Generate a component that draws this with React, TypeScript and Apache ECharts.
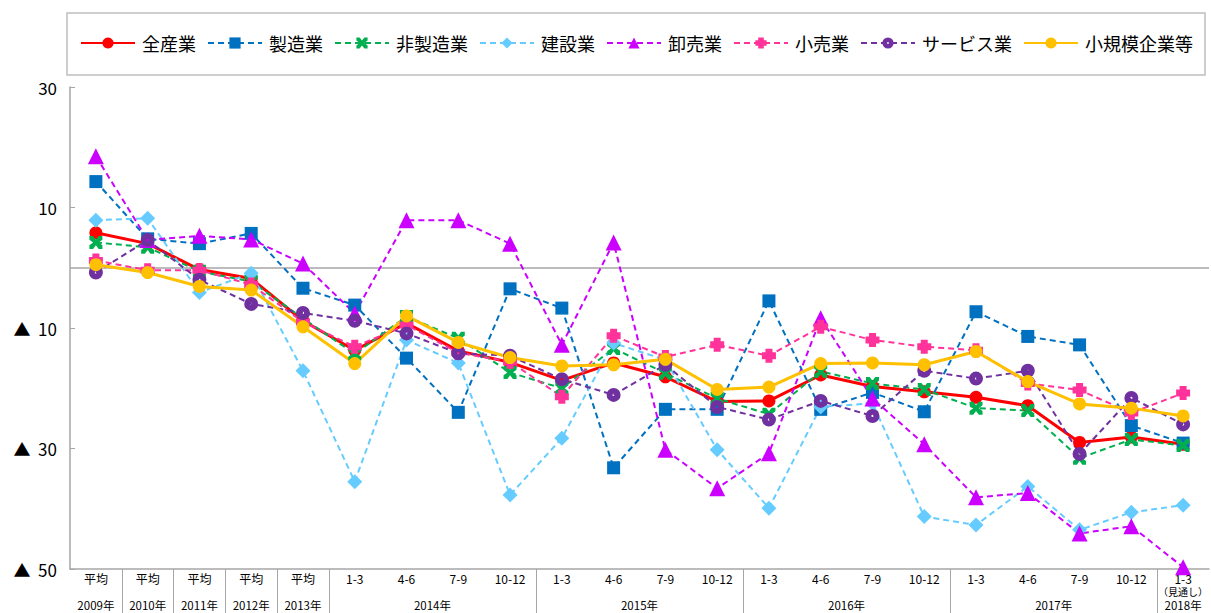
import React, { useEffect, useRef } from "react";
import * as echarts from "echarts";

const categories = [
  "平均", "平均", "平均", "平均", "平均",
  "1-3", "4-6", "7-9", "10-12",
  "1-3", "4-6", "7-9", "10-12",
  "1-3", "4-6", "7-9", "10-12",
  "1-3", "4-6", "7-9", "10-12",
  "1-3\n{s|（見通し）}",
];
const yearLabels = ["2009年", "2010年", "2011年", "2012年", "2013年", "2014年", "2015年", "2016年", "2017年", "2018年"];
const yearSpans = [1, 1, 1, 1, 1, 4, 4, 4, 4, 1];
const yTickValues = [30, 10, -10, -30, -50];

const allIndustries = [5.8, 4.0, -0.3, -1.8, -8.8, -13.7, -9.2, -13.8, -15.7, -18.7, -15.8, -18.1, -22.2, -22.1, -17.8, -19.7, -20.6, -21.5, -22.9, -29.0, -28.1, -29.3];
const manufacturing = [14.3, 4.8, 4.0, 5.7, -3.4, -6.2, -15.0, -24.0, -3.5, -6.7, -33.2, -23.5, -23.5, -5.5, -23.5, -20.7, -23.9, -7.3, -11.4, -12.8, -26.2, -29.1];
const nonManufacturing = [4.2, 3.4, -0.6, -2.3, -8.4, -14.3, -8.1, -11.7, -17.4, -20.0, -13.4, -17.5, -21.7, -24.3, -17.2, -19.2, -20.2, -23.3, -23.7, -31.6, -28.5, -29.5];
const construction = [7.9, 8.2, -4.1, -0.9, -17.1, -35.5, -12.0, -15.8, -37.7, -28.3, -12.5, -15.3, -30.2, -39.9, -23.1, -22.5, -41.3, -42.7, -36.3, -43.5, -40.6, -39.4];
const wholesale = [18.5, 4.6, 5.3, 4.7, 0.7, -7.6, 7.9, 7.9, 4.0, -12.8, 4.2, -30.2, -36.6, -30.8, -8.4, -21.7, -29.3, -38.1, -37.4, -44.1, -42.9, -49.7];
const retail = [1.2, -0.4, -0.4, -2.8, -9.0, -13.1, -9.5, -14.1, -15.6, -21.4, -11.3, -14.8, -12.8, -14.6, -9.8, -12.0, -13.1, -13.7, -19.2, -20.3, -24.1, -20.8];
const services = [-0.8, 4.6, -2.0, -6.0, -7.5, -8.8, -10.9, -14.2, -14.6, -18.5, -21.1, -16.1, -23.1, -25.2, -22.1, -24.6, -17.1, -18.4, -17.1, -30.9, -21.6, -26.0];
const smallBusiness = [0.5, -0.8, -3.1, -3.7, -9.8, -15.9, -8.0, -12.4, -14.9, -16.3, -16.1, -15.2, -20.2, -19.8, -15.9, -15.8, -16.1, -13.9, -18.9, -22.6, -23.3, -24.6];

const X_SYMBOL = "path://M-7,-7L-3,-7L0,-3L3,-7L7,-7L7,-3L3,0L7,3L7,7L3,7L0,3L-3,7L-7,7L-7,3L-3,0L-7,-3Z";
const PLUS_SYMBOL = "path://M-3.5,-7L3.5,-7L3.5,-3.5L7,-3.5L7,3.5L3.5,3.5L3.5,7L-3.5,7L-3.5,3.5L-7,3.5L-7,-3.5L-3.5,-3.5Z";
const DOT_CIRCLE = "path://M0,-10A10,10 0 1,1 0,10A10,10 0 1,1 0,-10ZM0,-1.6A1.6,1.6 0 1,0 0,1.6A1.6,1.6 0 1,0 0,-1.6Z";

const FONT = "'Noto Sans CJK JP', 'Noto Sans', sans-serif";
const AXIS_GRAY = "#A6A6A6";

export default function App() {
  const ref = useRef<HTMLDivElement>(null);

  useEffect(() => {
    if (!ref.current) return;
    const chart = echarts.init(ref.current, null, { renderer: "svg" });

    const centers: number[] = [];
    const bounds: number[] = [];
    const centerLabel: Record<string, string> = {};
    let pos = 0;
    yearSpans.forEach((s, i) => {
      const c = pos + s / 2;
      centers.push(c);
      centerLabel[String(c)] = yearLabels[i];
      pos += s;
      if (i < yearSpans.length - 1) bounds.push(pos);
    });

    const dashed = [6, 4];
    const mk = (name: string, data: number[], color: string, symbol: string, size: number, solid: boolean) => ({
      name,
      type: "line",
      data,
      symbol,
      symbolSize: size,
      showSymbol: true,
      lineStyle: { color, width: solid ? 3 : 2, type: solid ? "solid" : dashed },
      itemStyle: { color, borderWidth: 0 },
    });

    const series: any[] = [
      mk("全産業", allIndustries, "#FF0000", "circle", 13, true),
      mk("製造業", manufacturing, "#0070C0", "rect", 13, false),
      mk("非製造業", nonManufacturing, "#00B050", X_SYMBOL, 13, false),
      mk("建設業", construction, "#66CCFF", "diamond", 15, false),
      mk("卸売業", wholesale, "#CC00FF", "triangle", 16, false),
      mk("小売業", retail, "#FF3399", PLUS_SYMBOL, 14, false),
      mk("サービス業", services, "#7030A0", DOT_CIRCLE, 14, false),
      mk("小規模企業等", smallBusiness, "#FFC000", "circle", 13, true),
    ];
    series[0].markLine = {
      silent: true,
      symbol: ["none", "none"],
      label: { show: false },
      lineStyle: { color: AXIS_GRAY, type: "solid", width: 1.5 },
      data: [{ yAxis: 0 }],
      z: 1,
    };

    chart.setOption({
      animation: false,
      textStyle: { fontFamily: FONT },
      graphic: [
        {
          type: "rect",
          shape: { x: 67, y: 13, width: 1138, height: 62 },
          style: { fill: "none", stroke: "#BFBFBF", lineWidth: 1.5 },
          silent: true,
        },
      ],
      legend: {
        left: 80,
        top: 34,
        padding: 0,
        itemWidth: 54,
        itemHeight: 14,
        itemGap: 11,
        textStyle: { fontSize: 18, color: "#000", fontFamily: FONT, padding: [0, 0, 0, 2] },
        data: series.map((s) => s.name),
      },
      grid: { left: 70, right: -3, top: 87, bottom: 44, containLabel: false },
      xAxis: [
        {
          type: "category",
          data: categories,
          boundaryGap: true,
          axisLine: { show: true, onZero: false, lineStyle: { color: AXIS_GRAY, width: 1.5 } },
          axisTick: { show: false },
          splitLine: { show: false },
          axisLabel: {
            interval: 0,
            fontSize: 12,
            color: "#000",
            margin: 2,
            lineHeight: 14,
            fontFamily: FONT,
            rich: { s: { fontSize: 10, lineHeight: 13, color: "#000", fontFamily: FONT } },
          },
        },
        {
          type: "value",
          position: "bottom",
          min: 0,
          max: categories.length,
          axisLine: { show: false, onZero: false },
          splitLine: { show: false },
          axisTick: { show: true, length: 44, customValues: bounds, lineStyle: { color: AXIS_GRAY, width: 1 } },
          axisLabel: {
            show: true,
            customValues: centers,
            fontSize: 11.5,
            lineHeight: 12,
            color: "#000",
            margin: 30,
            fontFamily: FONT,
            formatter: (v: number) => centerLabel[String(v)] ?? "",
          },
        },
      ],
      yAxis: {
        type: "value",
        min: -50,
        max: 30,
        interval: 10,
        axisLine: { show: true, lineStyle: { color: AXIS_GRAY, width: 1.5 } },
        axisTick: { show: true, inside: true, length: 5, customValues: yTickValues, lineStyle: { color: AXIS_GRAY } },
        splitLine: { show: false },
        axisLabel: {
          customValues: yTickValues,
          fontSize: 17,
          color: "#000",
          margin: 13,
          fontFamily: FONT,
          formatter: (v: number) => {
            if (Math.abs(v) % 20 === 0) return "";
            return v < 0 ? "▲  " + String(-v) : String(v);
          },
        },
      },
      series,
    });

    return () => chart.dispose();
  }, []);

  return <div ref={ref} style={{ width: 1211, height: 613, position: "absolute", left: 0, top: 0 }} />;
}
